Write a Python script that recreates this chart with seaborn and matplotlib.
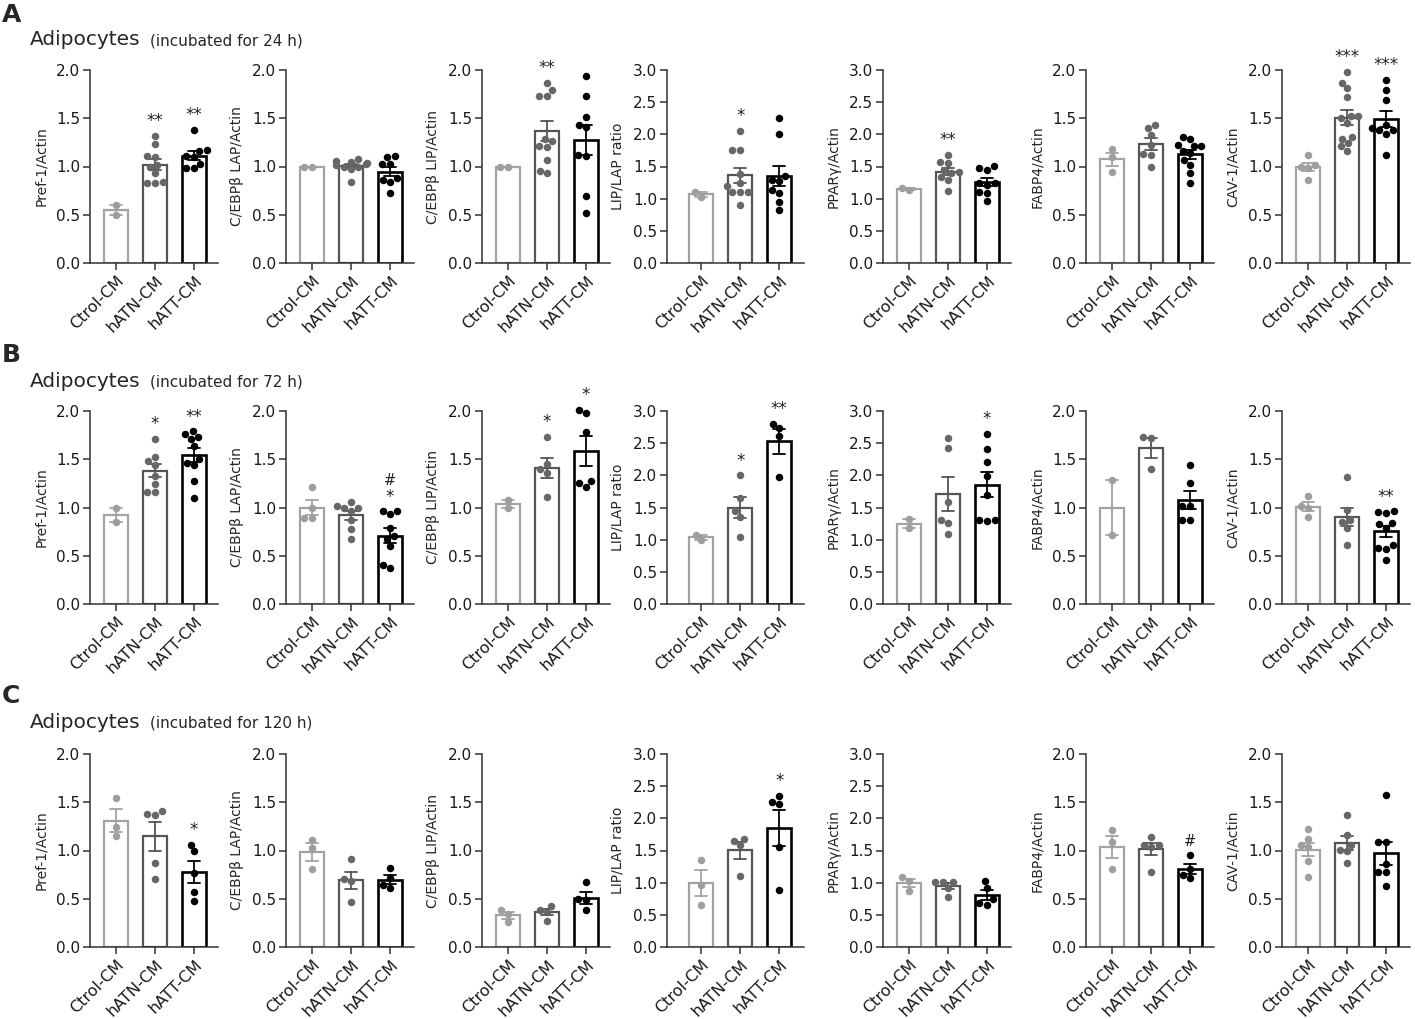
import numpy as np
import pandas as pd
import matplotlib
matplotlib.use("Agg")
import matplotlib.pyplot as plt
import seaborn as sns

groups = ["Ctrol-CM", "hATN-CM", "hATT-CM"]

# A: 24 h
pref1_24 = [[0.60, 0.50], [1.32, 1.23, 1.11, 1.10, 1.02, 0.99, 0.93, 0.84, 0.83, 0.83],
            [1.38, 1.17, 1.16, 1.11, 1.10, 1.03, 0.98, 0.98]]
lap_24 = [[1.00, 1.00], [1.08, 1.06, 1.05, 1.04, 1.03, 1.02, 1.00, 0.99, 0.97, 0.84],
          [1.11, 1.10, 1.03, 1.03, 0.88, 0.86, 0.84, 0.73]]
lip_24 = [[1.00, 1.00], [1.87, 1.79, 1.73, 1.73, 1.28, 1.26, 1.21, 1.20, 1.07, 0.95, 0.93],
          [1.94, 1.73, 1.51, 1.43, 1.41, 1.12, 1.11, 0.69, 0.52]]
ratio_24 = [[1.03, 1.10], [2.05, 1.76, 1.76, 1.38, 1.25, 1.19, 1.11, 1.11, 1.11, 0.90],
            [2.25, 2.00, 1.35, 1.29, 1.27, 1.14, 1.09, 0.95, 0.82]]
ppar_24 = [[1.13, 1.17], [1.68, 1.57, 1.55, 1.45, 1.41, 1.40, 1.33, 1.29, 1.12],
           [1.51, 1.47, 1.45, 1.24, 1.24, 1.22, 1.11, 1.09, 0.97]]
fabp4_24 = [[1.18, 1.10, 0.94], [1.43, 1.40, 1.33, 1.22, 1.13, 1.12, 1.00],
            [1.31, 1.28, 1.22, 1.21, 1.21, 1.16, 1.14, 1.07, 1.02, 0.93, 0.83]]
cav1_24 = [[1.12, 1.02, 1.00, 0.98, 0.86],
           [1.98, 1.87, 1.81, 1.72, 1.52, 1.50, 1.52, 1.45, 1.31, 1.29, 1.24, 1.21, 1.16],
           [1.90, 1.79, 1.69, 1.43, 1.40, 1.38, 1.38, 1.34, 1.12]]

# B: 72 h
pref1_72 = [[0.99, 0.85], [1.71, 1.52, 1.48, 1.44, 1.33, 1.24, 1.16, 1.16],
            [1.79, 1.76, 1.73, 1.71, 1.64, 1.50, 1.46, 1.44, 1.27, 1.10]]
lap_72 = [[1.21, 1.00, 0.89, 0.89], [1.06, 1.02, 0.99, 0.99, 0.96, 0.87, 0.78, 0.67],
          [0.96, 0.96, 0.93, 0.79, 0.70, 0.67, 0.60, 0.40, 0.37]]
lip_72 = [[1.08, 0.99], [1.73, 1.45, 1.40, 1.36, 1.11], [2.01, 1.98, 1.78, 1.27, 1.25, 1.21]]
ratio_72 = [[1.00, 1.08], [2.00, 1.65, 1.44, 1.35, 1.04], [2.80, 2.73, 2.61, 1.97]]
ppar_72 = [[1.32, 1.18], [2.58, 2.42, 1.58, 1.31, 1.26, 1.09],
           [2.64, 2.41, 2.20, 1.99, 1.69, 1.31, 1.31, 1.29]]
fabp4_72 = [[1.28, 0.71], [1.73, 1.72, 1.40], [1.44, 1.25, 1.02, 1.02, 0.87, 0.87]]
cav1_72 = [[1.12, 1.02, 1.00, 0.90], [1.32, 0.97, 0.87, 0.85, 0.79, 0.61],
           [0.96, 0.95, 0.94, 0.84, 0.83, 0.79, 0.61, 0.58, 0.57, 0.46]]

# C: 120 h
pref1_120 = [[1.54, 1.24, 1.15], [1.41, 1.38, 1.37, 0.87, 0.70], [1.06, 0.99, 0.77, 0.57, 0.48]]
lap_120 = [[1.11, 1.03, 0.81], [0.91, 0.70, 0.68, 0.47], [0.82, 0.71, 0.64, 0.61]]
lip_120 = [[0.38, 0.34, 0.26], [0.43, 0.38, 0.36, 0.27], [0.67, 0.50, 0.49, 0.38]]
ratio_120 = [[1.36, 0.96, 0.66], [1.68, 1.65, 1.58, 1.10], [2.35, 2.26, 2.22, 1.55, 0.88]]
ppar_120 = [[1.09, 1.03, 0.87], [1.01, 1.01, 1.01, 0.92, 0.78], [1.03, 0.92, 0.74, 0.68, 0.66]]
fabp4_120 = [[1.21, 1.09, 0.81], [1.14, 1.06, 1.06, 1.04, 0.78], [0.95, 0.81, 0.75, 0.71]]
cav1_120 = [[1.22, 1.12, 1.06, 1.04, 0.89, 0.73], [1.37, 1.16, 1.06, 1.01, 0.99, 0.87],
            [1.57, 1.09, 1.09, 0.86, 0.78, 0.78, 0.63]]

ylabels = ["Pref-1/Actin", "C/EBPβ LAP/Actin", "C/EBPβ LIP/Actin", "LIP/LAP ratio",
           "PPARγ/Actin", "FABP4/Actin", "CAV-1/Actin"]
ymaxes = [2.0, 2.0, 2.0, 3.0, 3.0, 2.0, 2.0]

marks_24 = [["", "**", "**"], ["", "", ""], ["", "**", ""], ["", "*", ""],
            ["", "**", ""], ["", "", ""], ["", "***", "***"]]
marks_72 = [["", "*", "**"], ["", "", "#\n*"], ["", "*", "*"], ["", "*", "**"],
            ["", "", "*"], ["", "", ""], ["", "", "**"]]
marks_120 = [["", "", "*"], ["", "", ""], ["", "", ""], ["", "", "*"],
             ["", "", ""], ["", "", "#"], ["", "", ""]]

row_data = [[pref1_24, lap_24, lip_24, ratio_24, ppar_24, fabp4_24, cav1_24],
            [pref1_72, lap_72, lip_72, ratio_72, ppar_72, fabp4_72, cav1_72],
            [pref1_120, lap_120, lip_120, ratio_120, ppar_120, fabp4_120, cav1_120]]
row_marks = [marks_24, marks_72, marks_120]
row_titles = ["(incubated for 24 h)", "(incubated for 72 h)", "(incubated for 120 h)"]
letters = ["A", "B", "C"]

edge_cols = ["#a3a3a3", "#555555", "#000000"]
dot_cols = ["#9e9e9e", "#676767", "#000000"]
bar_lw = [1.6, 1.6, 1.9]

sns.set_style("ticks")
plt.rcParams["font.family"] = ["DejaVu Sans"]
axc = "#333333"

W, H = 1415, 1019
fig = plt.figure(figsize=(W / 100, H / 100), dpi=100)

col_left = [90, 286, 482, 667, 883, 1086, 1282]
x_lo = [-0.67, -0.67, -0.67, -0.88, -0.67, -0.67, -0.67]
x_hi = 2.62
step = 39
row_top = [70, 411, 754]
ax_h = 193
title_base = [45, 387, 728]
letter_top = [3, 343, 684]


def draw_panel(ax, values, ylabel, ymax, marks, lo):
    df = pd.DataFrame({"group": np.repeat(groups, [len(v) for v in values]),
                       "value": np.concatenate(values)})
    for g, ec, dc, lw in zip(groups, edge_cols, dot_cols, bar_lw):
        sub = df[df["group"] == g]
        sns.barplot(data=sub, x="group", y="value", order=groups, errorbar="se",
                    capsize=0.3, width=0.62, color="white", saturation=1,
                    edgecolor=ec, linewidth=lw,
                    err_kws={"color": ec, "linewidth": 1.3}, ax=ax)
        sns.swarmplot(data=sub, x="group", y="value", order=groups, color=dc,
                      size=5.4, ax=ax)
    for coll in ax.collections:
        coll.set_zorder(5)
        coll.set_clip_on(False)
    for p in ax.patches:
        p.set_facecolor("white")

    for i, m in enumerate(marks):
        if not m:
            continue
        top = max(values[i])
        lines = m.split("\n")[::-1]
        for k, s in enumerate(lines):
            ax.annotate(s, xy=(i, top), xytext=(0, 7 + 12 * k), textcoords="offset points",
                        ha="center", va="baseline", fontsize=12 if s != "#" else 10.5,
                        color="#222222", annotation_clip=False)

    ax.set_xlim(lo, x_hi)
    ax.set_ylim(0, ymax)
    ax.set_yticks(np.arange(0, ymax + 0.01, 0.5))
    ax.set_yticklabels([f"{t:.1f}" for t in np.arange(0, ymax + 0.01, 0.5)], fontsize=11)
    ax.set_xticks(range(3))
    ax.set_xticklabels(groups, rotation=45, ha="right", rotation_mode="anchor", fontsize=11.5)
    ax.set_xlabel("")
    ax.set_ylabel(ylabel, fontsize=10, labelpad=6)
    sns.despine(ax=ax)
    for sp in ["left", "bottom"]:
        ax.spines[sp].set_color(axc)
        ax.spines[sp].set_linewidth(1.1)
    ax.tick_params(length=5, width=1.1, color=axc, labelcolor="#1a1a1a", pad=2)


for r in range(3):
    for c in range(7):
        w = (x_hi - x_lo[c]) * step
        ax = fig.add_axes([col_left[c] / W, 1 - (row_top[r] + ax_h) / H, w / W, ax_h / H])
        draw_panel(ax, row_data[r][c], ylabels[c], ymaxes[c], row_marks[r][c], x_lo[c])

    fig.text(2 / W, 1 - letter_top[r] / H, letters[r], fontsize=18, fontweight="bold",
             va="top", ha="left")
    t = fig.text(30 / W, 1 - title_base[r] / H, "Adipocytes", fontsize=14.5, va="baseline")
    bb = t.get_window_extent(renderer=fig.canvas.get_renderer())
    fig.text((bb.x1 + 9) / W, 1 - title_base[r] / H, row_titles[r], fontsize=11,
             va="baseline")

fig.savefig("out.png", dpi=100)
